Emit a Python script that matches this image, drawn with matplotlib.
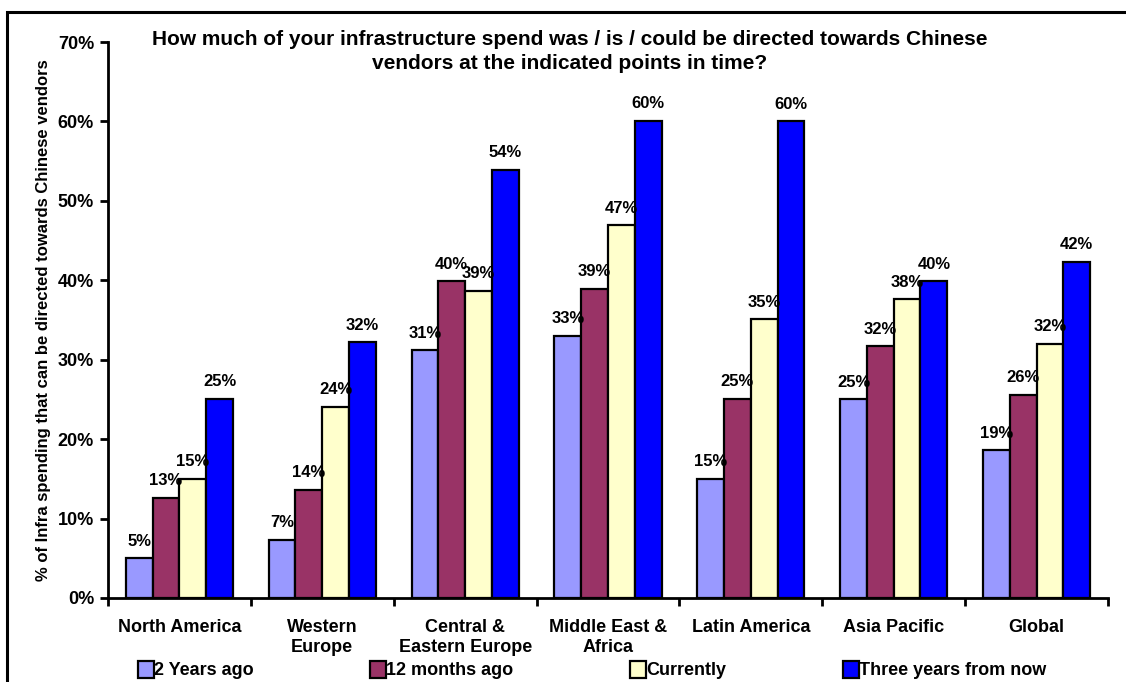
import numpy as np
import matplotlib.pyplot as plt
from matplotlib.patches import Rectangle

plt.rcParams['font.family'] = ['Liberation Sans', 'DejaVu Sans']
plt.rcParams['font.weight'] = 'bold'

regions = ['North America', 'Western\nEurope', 'Central &\nEastern Europe',
           'Middle East &\nAfrica', 'Latin America', 'Asia Pacific', 'Global']
series = ['2 Years ago', '12 months ago', 'Currently', 'Three years from now']

two_years_ago = [5.0, 7.3, 31.2, 33.0, 15.0, 25.0, 18.6]
twelve_months_ago = [12.6, 13.6, 39.9, 38.9, 25.1, 31.7, 25.6]
currently = [15.0, 24.1, 38.7, 46.9, 35.1, 37.6, 32.0]
three_years = [25.1, 32.2, 53.9, 60.1, 60.0, 39.9, 42.3]

colors = ['#9999FF', '#993366', '#FFFFCC', '#0000FF']

fig = plt.figure(figsize=(11.26, 6.82), dpi=100)
ax = fig.add_axes([0.0959, 0.1232, 0.8881, 0.8152])

x = np.arange(len(regions))
width = 0.1875
data = [two_years_ago, twelve_months_ago, currently, three_years]
for i, (vals, name, col) in enumerate(zip(data, series, colors)):
    pos = x + (i - 1.5) * width
    bars = ax.bar(pos, vals, width, color=col, edgecolor='black',
                  linewidth=1.6, label=name)
    for b, v in zip(bars, vals):
        ax.text(b.get_x() + b.get_width() / 2, v + 1.2, '{:.0f}%'.format(v),
                ha='center', va='bottom', fontsize=12, fontweight='bold')

ax.set_xlim(-0.5, len(regions) - 0.5)
ax.set_ylim(0, 70)
ax.set_yticks(np.arange(0, 71, 10))
ax.set_yticklabels(['{}%'.format(t) for t in range(0, 71, 10)])
ax.set_xticks(x)
ax.set_xticklabels(regions, linespacing=1.25)
ax.set_xticks(np.arange(-0.5, len(regions)), minor=True)
ax.tick_params(axis='x', which='major', length=0, pad=15, labelsize=13)
ax.tick_params(axis='x', which='minor', length=6, width=2, direction='out')
ax.tick_params(axis='y', length=6, width=2, labelsize=13, pad=4)
for lab in ax.get_xticklabels() + ax.get_yticklabels():
    lab.set_fontweight('bold')

for s in ['top', 'right']:
    ax.spines[s].set_visible(False)
for s in ['left', 'bottom']:
    ax.spines[s].set_linewidth(2)

ax.set_ylabel('% of Infra spending that can be directed towards Chinese vendors',
              fontsize=12, fontweight='bold', labelpad=5)

fig.text(0.506, 0.956,
         'How much of your infrastructure spend was / is / could be directed towards Chinese\n'
         'vendors at the indicated points in time?',
         ha='center', va='top', fontsize=15, fontweight='bold', linespacing=1.3)

# chart frame running off the right and bottom edges
fig.patches.append(Rectangle((7 / 1126, -0.1), 1.2, 1.1 - 12 / 682,
                             transform=fig.transFigure, fill=False,
                             edgecolor='black', linewidth=2.2))

leg = fig.legend(loc='lower left', bbox_to_anchor=(0.108, -0.02), ncol=4,
                 frameon=False, handlelength=0.9,
                 handleheight=1.1, handletextpad=0.0, columnspacing=6.45,
                 prop={'weight': 'bold', 'size': 13})

fig.savefig('out.png', dpi=100)
